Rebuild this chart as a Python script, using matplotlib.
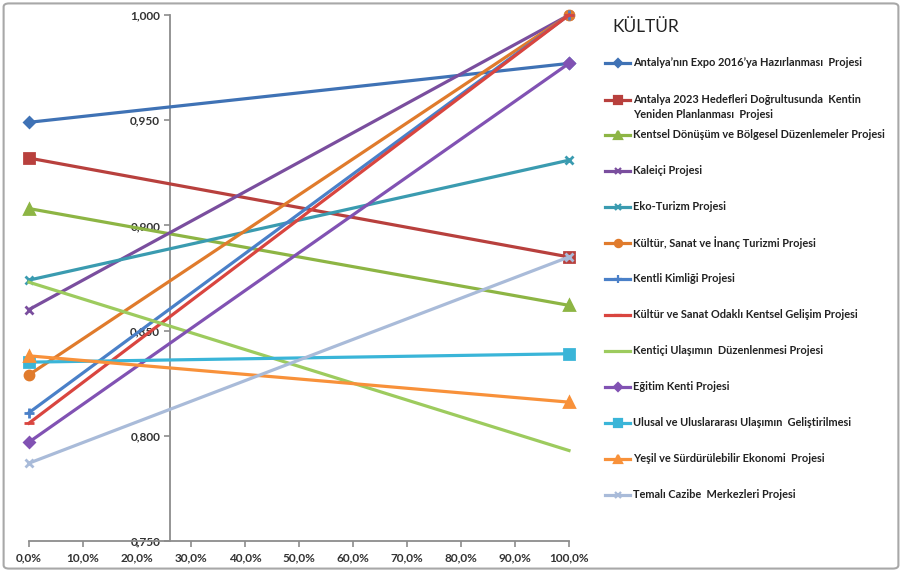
import matplotlib
matplotlib.use("Agg")
import matplotlib.pyplot as plt
from matplotlib.lines import Line2D
from matplotlib.patches import FancyBboxPatch

plt.rcParams['font.family'] = ['Lato', 'DejaVu Sans']

x_vals = [0.0, 1.0]
series_names = [
    "Antalya\u2019nın Expo 2016\u2019ya Hazırlanması  Projesi",
    "Antalya 2023 Hedefleri Doğrultusunda  Kentin\nYeniden Planlanması  Projesi",
    "Kentsel Dönüşüm ve Bölgesel Düzenlemeler Projesi",
    "Kaleiçi Projesi",
    "Eko-Turizm Projesi",
    "Kültür, Sanat ve İnanç Turizmi Projesi",
    "Kentli Kimliği Projesi",
    "Kültür ve Sanat Odaklı Kentsel Gelişim Projesi",
    "Kentiçi Ulaşımın  Düzenlenmesi Projesi",
    "Eğitim Kenti Projesi",
    "Ulusal ve Uluslararası Ulaşımın  Geliştirilmesi",
    "Yeşil ve Sürdürülebilir Ekonomi  Projesi",
    "Temalı Cazibe  Merkezleri Projesi",
]
start_vals = [0.949, 0.932, 0.908, 0.860, 0.874, 0.829, 0.811, 0.806, 0.873, 0.797, 0.835, 0.838, 0.787]
end_vals   = [0.977, 0.885, 0.862, 1.000, 0.931, 1.000, 1.000, 1.000, 0.793, 0.977, 0.839, 0.816, 0.885]

colors = ['#3F72B5', '#B8403D', '#8DB544', '#7A4E9E', '#3A9BB0', '#E07B2C', '#4A80C8',
          '#D9453F', '#9DCB5E', '#8152B3', '#3AB5D8', '#F8913A', '#A9BBD9']
markers = ['D', 's', '^', 'x', 'x', 'o', '+', '_', '', 'D', 's', '^', 'x']
msizes = [5, 6.5, 6.5, 6, 6, 6.5, 7, 7, 0, 5, 6.5, 6.5, 6]

y_ticks = [0.750, 0.800, 0.850, 0.900, 0.950, 1.000]
x_ticks = [i / 10 for i in range(11)]

fig = plt.figure(figsize=(9.02, 5.72), dpi=100)
fig.patch.set_facecolor('white')
frame = FancyBboxPatch((0.004, 0.006), 0.992, 0.988, boxstyle="round,pad=0,rounding_size=0.006",
                       transform=fig.transFigure, fill=False, edgecolor='#a8a8a8', linewidth=1.5)
fig.add_artist(frame)

ax = fig.add_axes([29 / 902, 1 - 541 / 572, 540 / 902, 526 / 572])
ax.set_facecolor('none')

for i in range(len(series_names)):
    m = markers[i]
    ax.plot(x_vals, [start_vals[i], end_vals[i]], color=colors[i], lw=2.3,
            marker=m if m else None, markersize=msizes[i],
            markeredgewidth=2, clip_on=False, zorder=3)

ax.set_xlim(0, 1)
ax.set_ylim(0.75, 1.0)
ax.spines['top'].set_visible(False)
ax.spines['right'].set_visible(False)
ax.spines['left'].set_position(('data', 0.261))
for sp in ['left', 'bottom']:
    ax.spines[sp].set_color('#8c8c8c')
    ax.spines[sp].set_linewidth(1.3)
ax.set_yticks(y_ticks)
ax.set_yticklabels([f"{v:.3f}".replace('.', ',') for v in y_ticks])
ax.set_xticks(x_ticks)
ax.set_xticklabels([f"{v * 100:.1f}%".replace('.', ',') for v in x_ticks])
ax.tick_params(axis='both', colors='#8c8c8c', length=4, width=1.2, labelcolor='#333333', labelsize=8.5)
for lab in ax.get_xticklabels() + ax.get_yticklabels():
    lab.set_fontweight('bold')
ax.tick_params(axis='y', pad=3)
ax.tick_params(axis='x', pad=4)

# Legend (manual, Excel-like)
fig.text(612 / 902, 1 - 27 / 572, "KÜLTÜR", fontsize=12.5, color='#222222', va='center', ha='left')
legend_y = [63, 100, 135, 171, 207, 243, 279, 315, 351, 387, 423, 459, 495]
for name, c, m, ms, yy in zip(series_names, colors, markers, msizes, legend_y):
    yf = 1 - yy / 572
    fig.add_artist(Line2D([605 / 902, 630 / 902], [yf, yf], transform=fig.transFigure, color=c, lw=2.3))
    if m:
        fig.add_artist(Line2D([617.5 / 902], [yf], transform=fig.transFigure, color=c,
                              marker=m, markersize=ms * 0.8, markeredgewidth=1.6))
    if '\n' in name:
        fig.text(633 / 902, yf + 6 / 572, name, fontsize=7.9, fontweight='bold', color='#222222',
                 va='top', ha='left', linespacing=1.5)
    else:
        fig.text(633 / 902, yf, name, fontsize=7.9, fontweight='bold', color='#222222',
                 va='center', ha='left')

fig.savefig("out.png", dpi=100, facecolor='white')
